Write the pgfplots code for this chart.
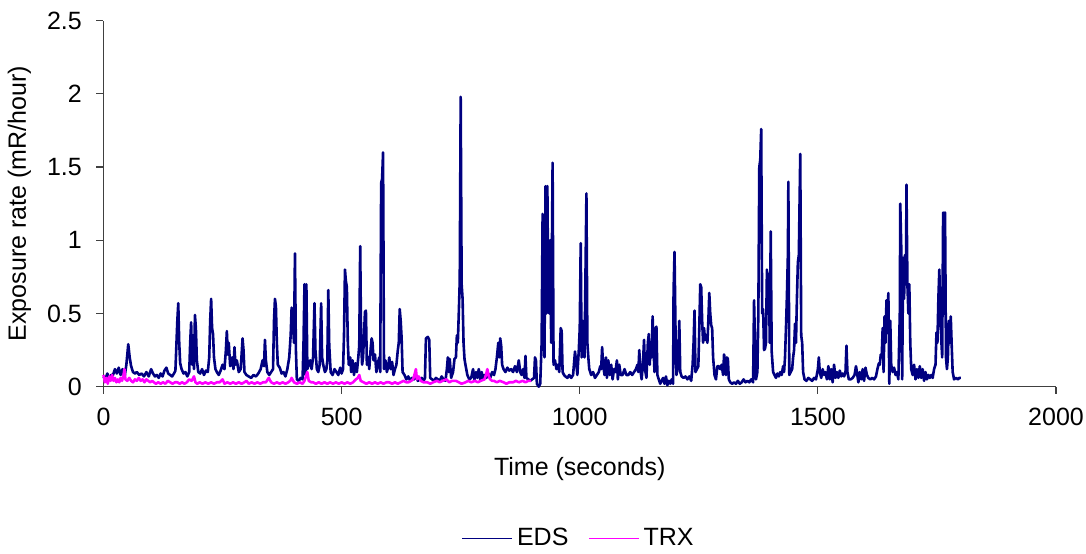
\documentclass[border=0pt]{standalone}
\usepackage{fontspec}
\setmainfont{Liberation Sans}
\usepackage{pgfplots}
\pgfplotsset{compat=1.18}
\usetikzlibrary{calc}
\definecolor{edsc}{RGB}{0,0,128}
\definecolor{trxc}{RGB}{255,0,255}
\begin{document}
\fontsize{12.5}{15}\selectfont
\begin{tikzpicture}
\begin{axis}[
  name=ax,
  scale only axis,
  width=476.25pt, height=183pt,
  xmin=0, xmax=2000, ymin=0, ymax=2.5,
  xtick={0,500,1000,1500,2000},
  ytick={0,0.5,1,1.5,2,2.5},
  axis x line*=bottom, axis y line*=left,
  axis line style={draw=black!75, line width=0.6pt},
  tick style={draw=black!75, line width=0.6pt},
  tick align=outside,
  major tick length=3.5pt,
  /pgf/number format/assume math mode=true,
  /pgf/number format/1000 sep={},
  tick label style={font=\fontsize{12.5}{15}\selectfont},
  xticklabel style={yshift=-3pt},
  yticklabel style={xshift=-3pt},
  xlabel={Time (seconds)},
  ylabel={Exposure rate (mR/hour)},
  label style={font=\fontsize{12.5}{15}\selectfont},
  xlabel style={at={(axis description cs:0.5,-0.2237)}, anchor=center},
  ylabel style={at={(axis description cs:-0.0882,0.5)}, anchor=center},
  legend style={at={(0.5,-0.415)}, anchor=center, draw=none, legend columns=2,
    font=\fontsize{12.5}{15}\selectfont,
    /tikz/every even column/.append style={column sep=8pt}},
  legend image code/.code={\draw[#1, line width=0.6pt] (0cm,0cm) -- (25pt,0cm);},
  clip=false,
]
\addplot[edsc, line width=1.3pt, line join=round] coordinates {
(0,0.07)(4,0.05)(8,0.09)(12,0.05)(16,0.08)(20,0.08)(24,0.12)(28,0.09)(32,0.13)(36,0.08)(40,0.12)(44,0.06)(48,0.15)(52,0.29)(55,0.2)(58,0.14)(62,0.1)(66,0.09)(70,0.1)(75,0.08)(80,0.09)(85,0.07)(90,0.1)(95,0.07)(100,0.12)(104,0.09)(108,0.07)(112,0.08)(116,0.06)(120,0.09)(124,0.07)(128,0.11)(132,0.13)(136,0.09)(140,0.08)(144,0.07)(148,0.09)(151,0.11)(153,0.28)(155,0.45)(157,0.57)(159,0.3)(161,0.16)(164,0.12)(168,0.09)(172,0.1)(176,0.07)(180,0.1)(182,0.3)(184,0.44)(186,0.15)(188,0.35)(190,0.12)(192,0.49)(194,0.4)(196,0.18)(199,0.1)(203,0.09)(207,0.12)(211,0.08)(215,0.11)(219,0.1)(222,0.2)(224,0.45)(226,0.6)(228,0.4)(230,0.36)(232,0.2)(235,0.12)(238,0.1)(242,0.08)(246,0.11)(250,0.15)(254,0.12)(257,0.25)(259,0.38)(261,0.22)(263,0.3)(266,0.14)(270,0.2)(273,0.12)(275,0.27)(277,0.15)(280,0.18)(284,0.1)(288,0.12)(290,0.22)(292,0.33)(294,0.25)(296,0.1)(300,0.08)(305,0.07)(310,0.06)(315,0.08)(320,0.07)(325,0.09)(330,0.12)(334,0.18)(337,0.14)(339,0.32)(341,0.18)(344,0.1)(348,0.08)(352,0.1)(356,0.12)(358,0.45)(360,0.6)(362,0.55)(364,0.3)(366,0.15)(370,0.13)(374,0.09)(378,0.1)(382,0.07)(386,0.12)(390,0.2)(393,0.35)(395,0.54)(397,0.48)(400,0.3)(402,0.91)(404,0.25)(406,0.05)(410,0.04)(414,0.06)(418,0.05)(420,0.3)(422,0.7)(424,0.08)(426,0.7)(428,0.12)(431,0.15)(434,0.18)(437,0.12)(440,0.2)(443,0.57)(445,0.25)(448,0.12)(451,0.1)(454,0.15)(457,0.57)(459,0.2)(462,0.14)(465,0.1)(468,0.12)(470,0.18)(472,0.66)(474,0.28)(477,0.1)(481,0.08)(485,0.12)(489,0.1)(493,0.08)(497,0.13)(500,0.09)(503,0.12)(505,0.35)(507,0.8)(509,0.72)(511,0.68)(513,0.3)(515,0.15)(518,0.2)(520,0.1)(523,0.18)(526,0.08)(529,0.16)(532,0.1)(535,0.2)(537,0.28)(539,0.96)(541,0.3)(543,0.15)(545,0.2)(547,0.35)(549,0.51)(551,0.52)(553,0.15)(556,0.2)(558,0.12)(561,0.26)(563,0.33)(565,0.3)(567,0.18)(570,0.22)(573,0.1)(576,0.16)(579,0.2)(581,0.1)(583,1.39)(585,1.42)(587,1.6)(589,0.12)(592,0.18)(595,0.1)(598,0.14)(600,0.2)(603,0.12)(606,0.17)(609,0.08)(612,0.12)(615,0.15)(618,0.25)(620,0.3)(622,0.53)(624,0.45)(626,0.33)(628,0.1)(632,0.08)(636,0.05)(640,0.07)(644,0.04)(648,0.06)(652,0.05)(656,0.07)(660,0.04)(664,0.05)(668,0.06)(672,0.04)(675,0.06)(677,0.33)(681,0.34)(684,0.32)(686,0.06)(690,0.05)(694,0.04)(698,0.06)(702,0.05)(706,0.04)(710,0.07)(714,0.05)(718,0.04)(721,0.12)(723,0.2)(725,0.1)(727,0.19)(730,0.06)(734,0.1)(737,0.19)(740,0.2)(742,0.35)(744,0.3)(746,0.5)(748,0.72)(750,1.98)(752,0.7)(754,0.6)(756,0.3)(758,0.19)(760,0.15)(764,0.08)(768,0.05)(772,0.06)(776,0.12)(779,0.05)(782,0.1)(785,0.06)(788,0.12)(791,0.05)(794,0.1)(797,0.05)(800,0.08)(804,0.06)(808,0.09)(812,0.06)(816,0.1)(820,0.08)(823,0.12)(826,0.2)(829,0.3)(831,0.2)(833,0.33)(835,0.28)(837,0.15)(840,0.12)(844,0.1)(848,0.13)(852,0.11)(856,0.12)(860,0.1)(864,0.14)(868,0.1)(872,0.18)(875,0.1)(878,0.08)(881,0.12)(884,0.06)(886,0.21)(888,0.06)(892,0.05)(896,0.04)(900,0.05)(904,0.06)(906,0.2)(908,0.18)(910,0.02)(914,0.0)(917,0.02)(920,0.3)(922,1.18)(924,0.4)(926,0.2)(928,1.37)(930,0.5)(932,1.37)(934,0.55)(936,0.5)(938,1.0)(940,0.3)(943,1.53)(945,0.15)(948,0.18)(951,0.12)(954,0.15)(957,0.1)(960,0.4)(962,0.38)(964,0.1)(967,0.08)(970,0.07)(974,0.06)(978,0.08)(982,0.06)(986,0.08)(990,0.24)(992,0.18)(995,0.08)(998,0.25)(1000,0.4)(1002,0.98)(1004,0.2)(1006,0.45)(1008,0.3)(1010,0.2)(1014,1.32)(1016,0.3)(1018,0.2)(1020,0.12)(1024,0.08)(1028,0.1)(1032,0.06)(1036,0.08)(1040,0.1)(1043,0.14)(1045,0.12)(1047,0.27)(1049,0.15)(1052,0.08)(1055,0.2)(1057,0.06)(1060,0.18)(1063,0.08)(1066,0.15)(1069,0.05)(1072,0.12)(1075,0.1)(1078,0.18)(1080,0.05)(1083,0.15)(1086,0.08)(1090,0.08)(1094,0.12)(1098,0.08)(1102,0.08)(1106,0.1)(1110,0.08)(1114,0.1)(1118,0.12)(1121,0.15)(1123,0.1)(1125,0.25)(1127,0.12)(1130,0.05)(1133,0.18)(1135,0.32)(1137,0.12)(1140,0.06)(1143,0.3)(1145,0.36)(1147,0.15)(1149,0.3)(1151,0.2)(1153,0.48)(1155,0.25)(1157,0.1)(1159,0.4)(1161,0.41)(1163,0.08)(1166,0.05)(1169,0.02)(1172,0.04)(1175,0.06)(1178,0.02)(1181,0.07)(1184,0.01)(1187,0.04)(1190,0.02)(1193,0.05)(1196,0.02)(1197,0.65)(1199,0.92)(1201,0.4)(1203,0.08)(1205,0.12)(1207,0.2)(1209,0.45)(1211,0.1)(1214,0.07)(1218,0.06)(1222,0.07)(1226,0.05)(1230,0.07)(1234,0.04)(1237,0.15)(1239,0.3)(1241,0.52)(1243,0.1)(1246,0.12)(1249,0.14)(1251,0.4)(1253,0.7)(1255,0.68)(1257,0.45)(1259,0.3)(1261,0.4)(1263,0.32)(1265,0.35)(1268,0.3)(1270,0.45)(1272,0.64)(1274,0.5)(1276,0.42)(1278,0.4)(1280,0.2)(1283,0.08)(1286,0.05)(1289,0.14)(1292,0.14)(1295,0.12)(1298,0.15)(1301,0.08)(1303,0.22)(1305,0.18)(1307,0.08)(1309,0.2)(1311,0.19)(1313,0.05)(1316,0.03)(1320,0.02)(1324,0.03)(1328,0.02)(1332,0.04)(1336,0.02)(1340,0.03)(1344,0.05)(1348,0.03)(1352,0.04)(1356,0.03)(1360,0.05)(1364,0.03)(1366,0.59)(1368,0.3)(1370,0.05)(1373,0.1)(1375,0.5)(1377,1.5)(1379,1.55)(1381,1.76)(1383,0.5)(1385,0.53)(1387,0.25)(1389,0.26)(1391,0.3)(1393,0.8)(1395,0.5)(1397,0.77)(1399,0.3)(1401,1.06)(1403,0.24)(1406,0.1)(1409,0.08)(1412,0.06)(1415,0.09)(1418,0.07)(1421,0.1)(1424,0.08)(1427,0.14)(1429,0.1)(1431,0.2)(1433,0.4)(1435,0.62)(1437,0.9)(1438,1.4)(1440,0.08)(1443,0.1)(1446,0.12)(1448,0.2)(1450,0.25)(1452,0.43)(1454,0.3)(1456,0.6)(1458,0.85)(1460,0.9)(1463,1.59)(1465,0.35)(1467,0.3)(1469,0.1)(1472,0.05)(1476,0.04)(1480,0.06)(1484,0.05)(1488,0.04)(1492,0.06)(1496,0.05)(1500,0.12)(1502,0.2)(1504,0.1)(1507,0.06)(1510,0.12)(1513,0.08)(1516,0.1)(1519,0.05)(1522,0.14)(1525,0.05)(1528,0.12)(1531,0.03)(1534,0.15)(1537,0.06)(1540,0.1)(1543,0.06)(1546,0.11)(1549,0.07)(1552,0.09)(1555,0.07)(1558,0.1)(1560,0.28)(1562,0.1)(1565,0.05)(1569,0.05)(1573,0.06)(1577,0.08)(1580,0.14)(1582,0.1)(1585,0.03)(1588,0.1)(1591,0.05)(1594,0.12)(1597,0.04)(1600,0.13)(1603,0.08)(1606,0.06)(1610,0.05)(1614,0.06)(1618,0.05)(1622,0.07)(1625,0.12)(1628,0.16)(1630,0.15)(1632,0.22)(1634,0.2)(1636,0.4)(1638,0.1)(1640,0.48)(1642,0.3)(1644,0.59)(1646,0.45)(1648,0.64)(1650,0.02)(1652,0.45)(1654,0.15)(1657,0.1)(1660,0.13)(1663,0.08)(1666,0.1)(1669,0.05)(1672,0.5)(1673,1.25)(1675,0.96)(1677,0.05)(1679,0.88)(1681,0.6)(1683,0.9)(1685,0.7)(1686,1.38)(1688,0.7)(1690,0.5)(1692,0.7)(1694,0.3)(1696,0.12)(1699,0.08)(1702,0.15)(1705,0.05)(1708,0.12)(1711,0.06)(1714,0.14)(1717,0.06)(1720,0.12)(1723,0.04)(1726,0.1)(1729,0.05)(1732,0.08)(1735,0.06)(1738,0.08)(1741,0.06)(1744,0.12)(1747,0.15)(1749,0.37)(1751,0.3)(1753,0.6)(1755,0.8)(1757,0.5)(1759,0.33)(1761,0.2)(1763,1.19)(1765,0.5)(1767,1.19)(1769,0.2)(1771,0.12)(1773,0.2)(1775,0.45)(1777,0.3)(1779,0.48)(1781,0.28)(1783,0.1)(1786,0.05)(1790,0.06)(1794,0.05)(1797,0.06)(1800,0.06)
};
\addlegendentry{EDS}
\addplot[trxc, line width=1.3pt, line join=round] coordinates {
(0,0.08)(3,0.03)(6,0.06)(9,0.02)(12,0.07)(15,0.04)(18,0.08)(21,0.04)(24,0.06)(27,0.03)(30,0.05)(33,0.03)(36,0.06)(39,0.04)(42,0.08)(44,0.12)(46,0.05)(50,0.04)(54,0.06)(58,0.04)(62,0.03)(66,0.05)(70,0.04)(74,0.06)(78,0.04)(82,0.05)(86,0.03)(90,0.05)(94,0.04)(98,0.03)(102,0.04)(106,0.03)(110,0.02)(115,0.03)(120,0.02)(125,0.03)(130,0.02)(135,0.04)(140,0.03)(145,0.02)(150,0.03)(155,0.03)(160,0.02)(165,0.03)(170,0.02)(175,0.03)(180,0.05)(185,0.04)(190,0.07)(193,0.03)(197,0.02)(202,0.03)(208,0.02)(214,0.03)(220,0.02)(226,0.03)(232,0.02)(238,0.03)(244,0.03)(250,0.05)(254,0.02)(260,0.03)(266,0.02)(272,0.03)(278,0.02)(284,0.03)(290,0.02)(296,0.03)(300,0.04)(305,0.02)(311,0.03)(317,0.02)(323,0.03)(329,0.02)(335,0.03)(341,0.03)(347,0.06)(352,0.03)(358,0.02)(364,0.03)(370,0.02)(376,0.03)(382,0.02)(388,0.03)(392,0.04)(395,0.06)(400,0.03)(406,0.02)(412,0.03)(418,0.02)(422,0.04)(425,0.07)(428,0.1)(431,0.04)(436,0.03)(440,0.03)(446,0.02)(452,0.03)(458,0.02)(464,0.03)(470,0.02)(476,0.03)(482,0.02)(488,0.03)(494,0.02)(500,0.03)(506,0.02)(512,0.03)(518,0.02)(524,0.03)(530,0.05)(534,0.06)(537,0.08)(540,0.04)(546,0.03)(552,0.02)(558,0.03)(564,0.02)(570,0.03)(576,0.02)(582,0.03)(588,0.02)(594,0.03)(600,0.03)(606,0.02)(612,0.03)(618,0.02)(624,0.03)(630,0.04)(636,0.03)(640,0.03)(646,0.04)(650,0.05)(652,0.07)(656,0.12)(658,0.05)(662,0.07)(666,0.04)(672,0.03)(680,0.03)(686,0.02)(692,0.03)(700,0.04)(706,0.03)(712,0.04)(720,0.05)(726,0.03)(732,0.04)(740,0.04)(746,0.03)(752,0.02)(760,0.03)(766,0.04)(772,0.03)(780,0.04)(786,0.03)(792,0.04)(800,0.05)(803,0.08)(806,0.12)(809,0.07)(812,0.05)(816,0.04)(820,0.04)(826,0.03)(832,0.04)(840,0.03)(846,0.02)(852,0.03)(860,0.03)(866,0.04)(872,0.03)(880,0.04)(886,0.03)(892,0.04)(898,0.04)
};
\addlegendentry{TRX}
\end{axis}
\pgfresetboundingbox
\path ($(ax.south west)+(-51.75pt,-83.65pt)$) rectangle ($(ax.north east)+(15pt,10.35pt)$);
\end{tikzpicture}
\end{document}
